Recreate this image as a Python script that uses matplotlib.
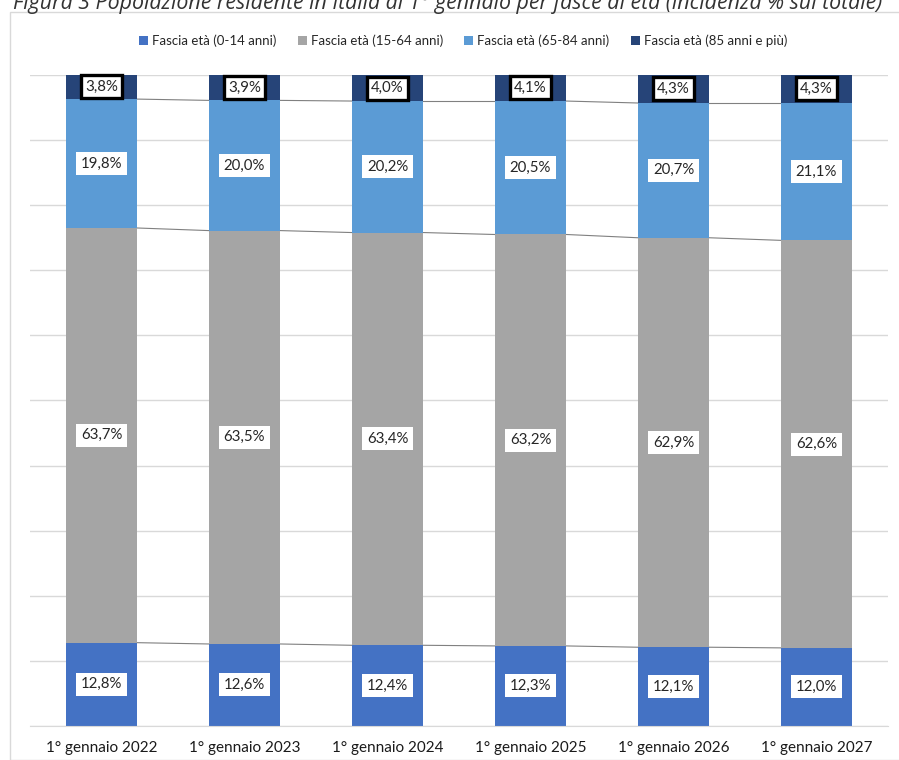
import matplotlib
matplotlib.use("Agg")
import matplotlib.pyplot as plt
from matplotlib.patches import Rectangle, Patch
import numpy as np

plt.rcParams["font.family"] = ["Lato", "DejaVu Sans"]

# Population shares by age band (%), 1 January of each year
categories = ["1° gennaio 2022", "1° gennaio 2023", "1° gennaio 2024",
              "1° gennaio 2025", "1° gennaio 2026", "1° gennaio 2027"]
series_names = ["Fascia età (0-14 anni)", "Fascia età (15-64 anni)",
                "Fascia età (65-84 anni)", "Fascia età (85 anni e più)"]
age_0_14 = [12.8, 12.6, 12.4, 12.3, 12.1, 12.0]
age_15_64 = [63.7, 63.5, 63.4, 63.2, 62.9, 62.6]
age_65_84 = [19.8, 20.0, 20.2, 20.5, 20.7, 21.1]
age_85_plus = [3.8, 3.9, 4.0, 4.1, 4.3, 4.3]

colors = ["#4472C4", "#A5A5A5", "#5B9BD5", "#264478"]
title = "Figura 3 Popolazione residente in Italia al 1° gennaio per fasce di età (incidenza % sul totale)"

W, H = 899, 760
fig = plt.figure(figsize=(W / 100, H / 100), dpi=100)

# Chart frame
fig.patches.append(Rectangle((10 / W, 0), 1.2, (H - 12) / H, transform=fig.transFigure,
                             facecolor="none", edgecolor="#D9D9D9", lw=1.0))

fig.text(0.498, 1 - 3 / H, title, ha="center", va="center", fontsize=15.4,
         style="italic", color="#333333", family=["Open Sans", "DejaVu Sans"])

ax = fig.add_axes([30 / W, 34 / H, (888 - 30) / W, (726 - 75) / H])
x = np.arange(len(categories))
width = 0.5
series = [age_0_14, age_15_64, age_65_84, age_85_plus]

bottom = np.zeros(len(categories))
tops = []
for vals, col in zip(series, colors):
    vals = np.array(vals)
    ax.bar(x, vals, width, bottom=bottom, color=col, zorder=2)
    for xi, b, v in zip(x, bottom, vals):
        boxed = col == colors[-1]
        ax.text(xi, b + v / 2, f"{v:.1f}%".replace(".", ","), ha="center", va="center",
                fontsize=10.8, color="#262626", zorder=5,
                bbox=dict(boxstyle="square,pad=0.3", facecolor="white",
                          edgecolor="black" if boxed else "none",
                          lw=2.4 if boxed else 0))
    bottom = bottom + vals
    tops.append(bottom.copy())

# Series lines joining the segment tops of neighbouring columns
for lvl in tops[:-1]:
    for i in range(len(categories) - 1):
        ax.plot([x[i] + width / 2, x[i + 1] - width / 2], [lvl[i], lvl[i + 1]],
                color="#808080", lw=0.8, zorder=1)

ax.set_xlim(-0.5, len(categories) - 0.5)
ax.set_ylim(0, 100)
ax.set_yticks(np.arange(0, 101, 10))
ax.yaxis.grid(True, color="#D9D9D9", lw=1.0, zorder=0)
ax.set_axisbelow(True)
ax.tick_params(axis="y", left=False, labelleft=False)
ax.tick_params(axis="x", bottom=False, pad=7)
ax.set_xticks(x)
ax.set_xticklabels(categories, fontsize=11, color="#1A1A1A")
for s in ["top", "right", "left"]:
    ax.spines[s].set_visible(False)
ax.spines["bottom"].set_color("#D9D9D9")

handles = [Patch(facecolor=c, label=n) for c, n in zip(colors, series_names)]
fig.legend(handles=handles, loc="center", bbox_to_anchor=(0.515, 1 - 41 / H), ncol=4,
           frameon=False, fontsize=9.5, handlelength=0.7, handleheight=0.7,
           handletextpad=0.3, columnspacing=1.6, labelcolor="#262626")

fig.savefig("out.png", dpi=100)
